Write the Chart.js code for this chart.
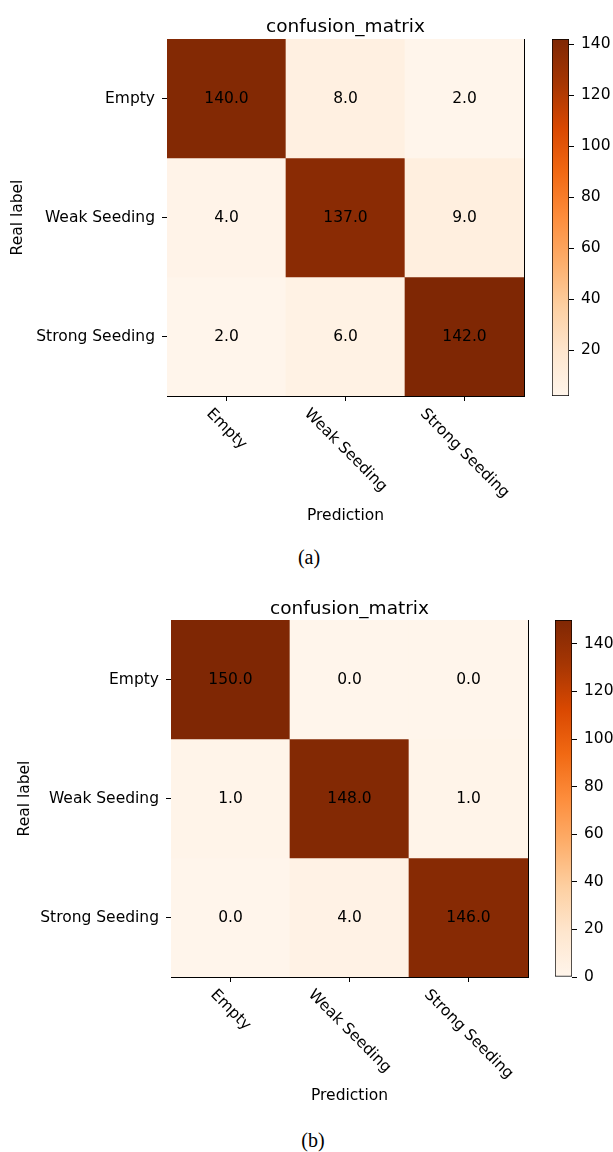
<!DOCTYPE html>
<html>
<head>
<meta charset="utf-8">
<title>confusion_matrix</title>
<script src="https://cdn.jsdelivr.net/npm/chart.js@4.4.0/dist/chart.umd.min.js"></script>
<style>
  body { margin: 0; background: #fff; width: 613px; height: 1152px; position: relative; overflow: hidden; }
  canvas { position: absolute; }
  .cap { position: absolute; font-family: "Liberation Serif", serif; font-size: 20px; color: #000; transform: translate(-50%, -50%); }
</style>
</head>
<body>
<canvas id="cmA" width="525" height="536" style="left:0;top:0"></canvas>
<canvas id="cbA" width="73" height="420" style="left:540px;top:0"></canvas>
<div class="cap" style="left:309px;top:557px">(a)</div>

<canvas id="cmB" width="529" height="536" style="left:0;top:581px"></canvas>
<canvas id="cbB" width="73" height="420" style="left:543px;top:581px"></canvas>
<div class="cap" style="left:313px;top:1140px">(b)</div>

<script>
const classes = ['Empty', 'Weak Seeding', 'Strong Seeding'];

// (a) one row per real label, columns = prediction
const aEmpty  = [140, 8, 2];
const aWeak   = [4, 137, 9];
const aStrong = [2, 6, 142];

// (b)
const bEmpty  = [150, 0, 0];
const bWeak   = [1, 148, 1];
const bStrong = [0, 4, 146];

const cbarTicksA = [20, 40, 60, 80, 100, 120, 140];
const cbarTicksB = [0, 20, 40, 60, 80, 100, 120, 140];

// matplotlib "Oranges"
const orangeStops = ['#fff5eb', '#fee6ce', '#fdd0a2', '#fdae6b', '#fd8d3c', '#f16913', '#d94801', '#a63603', '#7f2704'];

const fs = 15.5;      // tick / cell text size
const titleFs = 18.5;

Chart.defaults.font.family = '"DejaVu Sans", sans-serif';
Chart.defaults.color = '#000';

function hexRgb(h) {
    return [1, 3, 5].map(i => parseInt(h.slice(i, i + 2), 16));
}
function oranges(t) {
    t = Math.max(0, Math.min(1, t));
    const p = t * (orangeStops.length - 1);
    const i = Math.min(orangeStops.length - 2, Math.floor(p));
    const f = p - i;
    const a = hexRgb(orangeStops[i]), b = hexRgb(orangeStops[i + 1]);
    const c = a.map((v, k) => Math.round(v + (b[k] - v) * f));
    return `rgb(${c[0]},${c[1]},${c[2]})`;
}

// value printed in the middle of each cell
const cellValues = {
    id: 'cellValues',
    afterDatasetsDraw(chart) {
        const ctx = chart.ctx;
        ctx.save();
        ctx.font = fs + 'px "DejaVu Sans"';
        ctx.fillStyle = '#000';
        ctx.textAlign = 'center';
        ctx.textBaseline = 'middle';
        chart.data.datasets.forEach((ds, d) => {
            chart.getDatasetMeta(d).data.forEach((bar, i) => {
                const p = bar.getCenterPoint();
                ctx.fillText(ds.counts[i].toFixed(1), p.x, p.y);
            });
        });
        ctx.restore();
    }
};

// x tick labels turned 45deg clockwise, centred under each tick
const slantedTicks = {
    id: 'slantedTicks',
    afterDraw(chart) {
        const sc = chart.scales.x;
        const ctx = chart.ctx;
        ctx.save();
        ctx.font = fs + 'px "DejaVu Sans"';
        ctx.fillStyle = '#000';
        ctx.textAlign = 'center';
        ctx.textBaseline = 'middle';
        sc.ticks.forEach((t, i) => {
            const label = sc.getLabelForValue(t.value);
            const w = ctx.measureText(label).width;
            const half = (w + fs) / Math.SQRT2 / 2;
            ctx.save();
            ctx.translate(sc.getPixelForTick(i), sc.top + 10 + half);
            ctx.rotate(Math.PI / 4);
            ctx.fillText(label, 0, 0);
            ctx.restore();
        });
        ctx.restore();
    }
};

function makeMatrix(id, rows, o) {
    const all = rows.flat();
    const vmin = Math.min(...all), vmax = Math.max(...all);
    const datasets = rows.map((row, r) => ({
        data: row.map(() => [r, r + 1]),
        counts: row,
        backgroundColor: row.map(v => oranges((v - vmin) / (vmax - vmin))),
        borderWidth: 0,
        barPercentage: 1,
        categoryPercentage: 1,
        grouped: false,
        xAxisID: 'x',
        yAxisID: 'y'
    }));
    new Chart(document.getElementById(id), {
        type: 'bar',
        data: { labels: classes, datasets },
        options: {
            responsive: false,
            animation: false,
            devicePixelRatio: 1,
            layout: { padding: { left: 0, top: 0, right: 1, bottom: 0 } },
            plugins: { legend: { display: false }, tooltip: { enabled: false } },
            scales: {
                x: {
                    type: 'category', position: 'bottom', offset: true, z: 1,
                    grid: { offset: false, drawOnChartArea: false, tickLength: 5, color: '#000' },
                    border: { color: '#000', width: 1 },
                    ticks: { display: false },
                    title: { display: true, text: 'Prediction', font: { size: fs }, color: '#000', padding: { top: 0, bottom: o.predPad } },
                    afterFit: s => { s.height = 140; }
                },
                xt: {
                    type: 'category', position: 'top', z: 1,
                    grid: { drawOnChartArea: false, drawTicks: false },
                    border: { color: '#000', width: 1 },
                    ticks: { display: false },
                    title: { display: true, text: 'confusion_matrix', font: { size: titleFs }, color: '#000', padding: { top: o.titlePad, bottom: 0 } },
                    afterFit: s => { s.height = 39; }
                },
                y: {
                    type: 'linear', min: 0, max: 3, reverse: true, z: 1,
                    afterBuildTicks: s => { s.ticks = classes.map((_, i) => ({ value: i + 0.5 })); },
                    ticks: { callback: v => classes[Math.floor(v)], font: { size: fs }, color: '#000', padding: 7, autoSkip: false },
                    grid: { drawOnChartArea: false, tickLength: 5, color: '#000' },
                    border: { color: '#000', width: 1 },
                    title: { display: true, text: 'Real label', font: { size: fs }, color: '#000', padding: { top: o.realPad, bottom: 0 } },
                    afterFit: s => { s.width = o.yW; }
                },
                yr: {
                    type: 'linear', position: 'right', z: 1,
                    grid: { drawOnChartArea: false, drawTicks: false },
                    border: { color: '#000', width: 1 },
                    ticks: { display: false },
                    afterFit: s => { s.width = 0; }
                }
            }
        },
        plugins: [cellValues, slantedTicks]
    });
    return [vmin, vmax];
}

function cbarGradient(c, vmin, vmax) {
    const chart = c.chart;
    if (!chart.chartArea) return null;
    const y = chart.scales.y;
    const g = chart.ctx.createLinearGradient(0, y.getPixelForValue(vmin), 0, y.getPixelForValue(vmax));
    orangeStops.forEach((col, k) => g.addColorStop(k / (orangeStops.length - 1), col));
    return g;
}

function makeColorbar(id, range, tickVals) {
    const [vmin, vmax] = range;
    new Chart(document.getElementById(id), {
        type: 'bar',
        data: {
            labels: [''],
            datasets: [{
                data: [[vmin, vmax]],
                backgroundColor: c => cbarGradient(c, vmin, vmax),
                borderColor: '#000',
                borderWidth: 1,
                borderSkipped: false,
                barPercentage: 1,
                categoryPercentage: 1
            }]
        },
        options: {
            responsive: false,
            animation: false,
            devicePixelRatio: 1,
            layout: { padding: { left: 12, top: 39, bottom: 24, right: 0 } },
            plugins: { legend: { display: false }, tooltip: { enabled: false } },
            scales: {
                x: { display: false },
                y: {
                    position: 'right', min: vmin, max: vmax,
                    afterBuildTicks: s => { s.ticks = tickVals.map(v => ({ value: v })); },
                    ticks: { font: { size: fs }, color: '#000', padding: 7 },
                    grid: { drawOnChartArea: false, tickLength: 5, color: '#000' },
                    border: { display: false },
                    afterFit: s => { s.width = 44; }
                }
            }
        }
    });
}

const rangeA = makeMatrix('cmA', [aEmpty, aWeak, aStrong], { yW: 167, realPad: 9, titlePad: 16, predPad: 11 });
makeColorbar('cbA', rangeA, cbarTicksA);

const rangeB = makeMatrix('cmB', [bEmpty, bWeak, bStrong], { yW: 171, realPad: 16, titlePad: 17, predPad: 12 });
makeColorbar('cbB', rangeB, cbarTicksB);
</script>
</body>
</html>
